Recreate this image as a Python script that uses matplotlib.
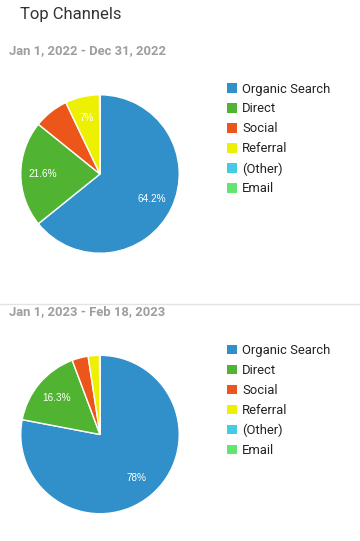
import matplotlib.pyplot as plt
from matplotlib.patches import Rectangle
from matplotlib.lines import Line2D

# Channel data (percent of sessions)
channels = ['Organic Search', 'Direct', 'Social', 'Referral', '(Other)', 'Email']
colors = ['#3190CA', '#50B432', '#ED561B', '#EDF000', '#45CCE5', '#64E572']

period_2022 = 'Jan 1, 2022 - Dec 31, 2022'
share_2022 = [64.2, 21.6, 7.1, 7.0, 0.05, 0.05]
labels_2022 = ['64.2%', '21.6%', '', '7%', '', '']

period_2023 = 'Jan 1, 2023 - Feb 18, 2023'
share_2023 = [78.0, 16.3, 3.3, 2.3, 0.05, 0.05]
labels_2023 = ['78%', '16.3%', '', '', '', '']

W, H = 360, 541
plt.rcParams['font.family'] = ['Roboto', 'DejaVu Sans']
fig = plt.figure(figsize=(W / 100, H / 100), dpi=100)


def fx(px):
    return px / W


def fy(py):
    return 1 - py / H


def draw_pie(top_px, values, slice_labels):
    # pie occupies a 160px square, left edge at 20px
    ax = fig.add_axes([fx(20), fy(top_px + 160), 160 / W, 160 / H])
    wedges, texts, autotexts = ax.pie(
        values, colors=colors, startangle=90, counterclock=False,
        autopct=lambda p: '', pctdistance=0.72,
        wedgeprops=dict(edgecolor='white', linewidth=1))
    for t, lab in zip(autotexts, slice_labels):
        t.set_text(lab)
        t.set_color('white')
        t.set_fontsize(7.2)
        t.set_family(['Liberation Sans', 'DejaVu Sans'])
    ax.set_xlim(-1.01, 1.01)
    ax.set_ylim(-1.01, 1.01)
    ax.set_aspect('equal')
    ax.axis('off')


def draw_legend(first_row_px):
    for i, (name, col) in enumerate(zip(channels, colors)):
        yc = first_row_px + i * 20
        fig.add_artist(Rectangle((fx(227.3), fy(yc + 4.7)), 9.5 / W, 9.5 / H,
                                 transform=fig.transFigure, facecolor=col,
                                 edgecolor='none'))
        fig.text(fx(242), fy(yc + 1), name, fontsize=9.4, color='#222222',
                 ha='left', va='center')


# header
fig.text(fx(20), fy(14.5), 'Top Channels', fontsize=12, color='#333333',
         ha='left', va='center')

# 2022 block
fig.text(fx(9), fy(50.5), period_2022, fontsize=9.4, fontweight='bold',
         color='#9E9E9E', ha='left', va='center')
draw_pie(94, share_2022, labels_2022)
draw_legend(88)

# separator
fig.add_artist(Line2D([0, 1], [fy(304), fy(304)], transform=fig.transFigure,
                      color='#E3E3E3', linewidth=1))

# 2023 block
fig.text(fx(9), fy(312), period_2023, fontsize=9.4, fontweight='bold',
         color='#9E9E9E', ha='left', va='center')
draw_pie(354.5, share_2023, labels_2023)
draw_legend(349.3)

fig.savefig('out.png', dpi=100)
